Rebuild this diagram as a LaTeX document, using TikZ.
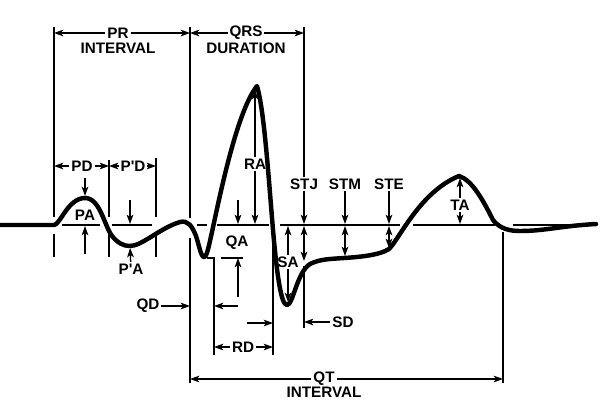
\documentclass[tikz,border=0pt]{standalone}
\usepackage{fontspec}
\setmainfont{Liberation Sans}
\usetikzlibrary{arrows.meta}

\tikzset{
  ecg/.style={line width=3.8pt, line join=round, line cap=round},
  thinln/.style={line width=1.1pt},
  baseln/.style={line width=1.5pt},
  arr/.style={thinln, -{Stealth[length=2.8mm,width=2mm,inset=0.7mm]}},
  darr/.style={thinln, {Stealth[length=2.8mm,width=2mm,inset=0.7mm]}-{Stealth[length=2.8mm,width=2mm,inset=0.7mm]}},
  lbl/.style={font=\bfseries\fontsize{13}{13}\selectfont, inner sep=1.5pt},
}

\begin{document}
\begin{tikzpicture}[x=0.03cm, y=-0.03cm]
\useasboundingbox (0,0) rectangle (600,409);

% Reference points
\coordinate (bU) at (0,224);
\coordinate (bD) at (0,226);
\coordinate (prL) at (54,27);
\coordinate (pdM) at (109,160);
\coordinate (pdR) at (156,158);
\coordinate (qrsL) at (190,27);
\coordinate (qrsR) at (304,27);
\coordinate (rdL) at (214,258);
\coordinate (rdR) at (273,243);
\coordinate (sdR) at (304,266);
\coordinate (qtR) at (503,232);
\coordinate (pPk) at (85,198);
\coordinate (pTr) at (130,246);
\coordinate (rPk) at (255,90);
\coordinate (sTr) at (288,302);
\coordinate (jPt) at (304,261);
\coordinate (stmPt) at (345,256);
\coordinate (stePt) at (389,248);
\coordinate (tPk) at (460,178);
\coordinate (qLev) at (221,258);

% Baseline
\foreach \a/\b in {62/100, 112/152, 197/207, 217/269, 280/400, 413/495, 513/596}
  \draw[baseln] (\a,225) -- (\b,225);

% ECG trace
\draw[ecg] (0,225) -- (54,225)
  .. controls (60,225) and (68,198) .. (85,198)
  .. controls (100,198) and (104,225) .. (112,236)
  .. controls (118,243) and (123,246) .. (130,246)
  .. controls (142,246) and (160,228) .. (180,222)
  .. controls (188,220) and (192,226) .. (196,236)
  .. controls (199,245) and (201,257) .. (204,257)
  .. controls (207,257) and (209,245) .. (212,232)
  .. controls (222,185) and (238,110) .. (257,86)
  .. controls (264,110) and (268,170) .. (273,230)
  .. controls (277,275) and (281,305) .. (287,305)
  .. controls (293,305) and (297,272) .. (310,264)
  .. controls (320,259) and (330,259) .. (344,258)
  .. controls (360,257) and (380,255) .. (389,249)
  .. controls (400,238) and (420,192) .. (459,176)
  .. controls (472,180) and (483,200) .. (493,220)
  .. controls (500,229) and (510,231) .. (520,231)
  .. controls (545,231) and (560,226) .. (596,224);

% Extension lines
\foreach \x/\t in {54/27, 109/160, 156/158}
  \draw[thinln] (\x,\t) -- (\x,217) (\x,234) -- (\x,257);
\draw[thinln] (qrsL) -- (190,218) (190,238) -- (190,383);
\draw[thinln] (rdL) -- (214,355);
\draw[thinln] (rdR) -- (273,355);
\draw[thinln] (sdR) -- (304,328);
\draw[thinln] (qtR) -- (503,383);
\draw[thinln] (207,258) -- (215,258) (qLev) -- ++(22,0);

% Labels
\node[lbl] (pr) at (118,33) {PR};
\node[lbl] (prI) at (118,48) {INTERVAL};
\node[lbl] (qrs) at (246,33) {QRS};
\node[lbl] (qrsD) at (246,48) {DURATION};
\node[lbl] (pd) at (82,166) {PD};
\node[lbl] (ppd) at (133,166) {P\textquotesingle D};
\node[lbl] (pa) at (85,215) {PA};
\node[lbl] (ppa) at (131,269) {P\textquotesingle A};
\node[lbl] (ra) at (255,164) {RA};
\node[lbl] (qa) at (237,243) {QA};
\node[lbl] (sa) at (288,262) {SA};
\node[lbl] (stj) at (304,184) {STJ};
\node[lbl] (stm) at (345,184) {STM};
\node[lbl] (ste) at (389,184) {STE};
\node[lbl] (ta) at (460,205) {TA};
\node[lbl] (qd) at (148,306) {QD};
\node[lbl] (rd) at (243,347) {RD};
\node[lbl] (sd) at (343,322) {SD};
\node[lbl] (qt) at (324,379) {QT};
\node[lbl] (qtI) at (324,392) {INTERVAL};

% Durations
\draw[arr] (pr) -- (pr -| prL);
\draw[arr] (pr) -- (pr -| qrsL);
\draw[arr] (qrs) -- (qrs -| qrsL);
\draw[arr] (qrs) -- (qrs -| qrsR);
\draw[arr] (pd) -- (pd -| prL);
\draw[arr] (pd) -- (pd -| pdM);
\draw[arr] (ppd) -- (ppd -| pdM);
\draw[arr] (ppd) -- (ppd -| pdR);
\coordinate (qdT) at (238,306);
\draw[arr] (qd) -- (qd -| qrsL);
\draw[arr] (qdT) -- (qdT -| rdL);
\draw[arr] (rd) -- (rd -| rdL);
\draw[arr] (rd) -- (rd -| rdR);
\coordinate (sdT) at (247,323);
\draw[arr] (sdT) -- (sdT -| rdR);
\draw[arr] (sd) -- (sd -| sdR);
\draw[arr] (qt) -- (qt -| qrsL);
\draw[arr] (qt) -- (qt -| qtR);

% Amplitudes
\coordinate (paA) at (85,178);
\coordinate (paB) at (85,254);
\draw[arr, shorten >=1.7pt] (paA) -- (pPk);
\draw[arr] (paB) -- (paB |- bD);
\coordinate (ppaA) at (130,200);
\draw[arr] (ppaA) -- (ppaA |- bU);
\draw[arr, shorten >=1.7pt] (ppa) -- (pTr);
\draw[arr] (ra) -- (rPk);
\draw[arr] (ra) -- (ra |- bU);
\coordinate (qaA) at (238,200);
\coordinate (qaB) at (238,297);
\draw[arr] (qaA) -- (qaA |- bU);
\draw[arr] (qaB) -- (qaB |- qLev);
\draw[arr] (sa) -- (sa |- bD);
\draw[arr] (sa) -- (sTr);
\draw[thinln] (qrsR) -- (stj.north);
\draw[arr] (stj) -- (stj |- bU);
\draw[darr] (jPt |- bD) -- (jPt);
\draw[arr] (stm) -- (stm |- bU);
\draw[darr] (stmPt |- bD) -- (stmPt);
\draw[arr] (ste) -- (ste |- bU);
\draw[darr] (stePt |- bD) -- (stePt);
\draw[arr] (ta) -- (tPk);
\draw[arr] (ta) -- (ta |- bU);
\end{tikzpicture}
\end{document}
